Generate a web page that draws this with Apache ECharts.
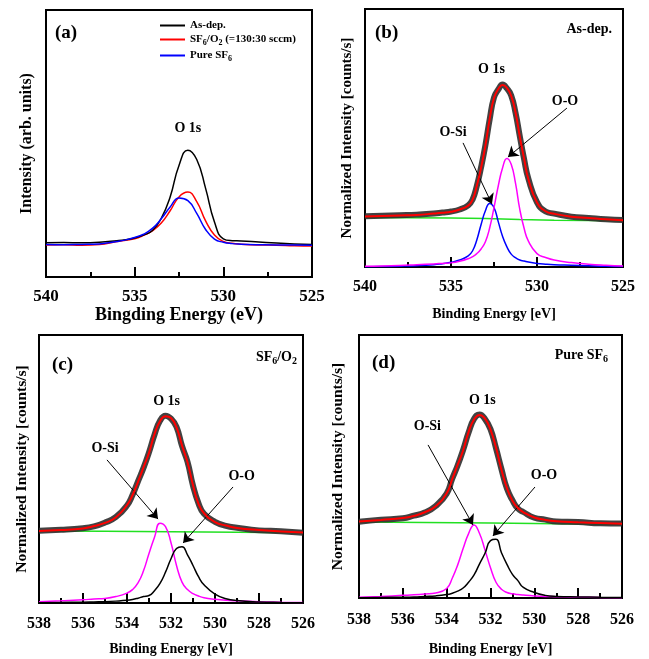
<!DOCTYPE html>
<html><head><meta charset="utf-8">
<script src="https://cdn.jsdelivr.net/npm/echarts@6/dist/echarts.min.js"></script>
<style>html,body{margin:0;padding:0;background:#fff}#c{width:649px;height:659px}</style>
</head><body><div id="c"></div>
<script>
// ---------- Panel (a): O 1s spectra ----------
const aEnergy = [540, 539, 538, 537, 536, 535.5, 535, 534.5, 534, 533.5, 533, 532.5, 532, 531.5, 531, 530.5, 530, 529.5, 529, 528, 527, 526, 525];
const aAsDep  = [12.8, 12.9, 12.8, 13.0, 13.6, 14.0, 14.6, 15.7, 17.4, 22.0, 30.0, 41.8, 47.5, 44.0, 33.2, 20.6, 14.3, 13.6, 13.5, 13.1, 12.7, 12.4, 12.2];
const aSF6O2  = [12.0, 12.1, 11.9, 12.2, 13.3, 13.8, 14.3, 15.6, 17.3, 20.2, 24.8, 30.0, 31.8, 28.2, 21.0, 15.7, 13.3, 12.6, 12.3, 12.0, 11.9, 11.7, 11.6];
const aPureSF6= [12.2, 12.1, 12.2, 12.4, 13.3, 13.9, 14.8, 16.0, 18.2, 21.8, 26.2, 29.6, 28.6, 23.8, 17.8, 14.2, 13.0, 12.5, 12.3, 12.1, 12.0, 12.0, 11.9];

// ---------- Panel (b): As-dep. fit ----------
const bEnergy = [540, 539, 538, 537, 536, 535.5, 535, 534.5, 534, 533.75, 533.5, 533.25, 533, 532.75, 532.5, 532.25, 532, 531.75, 531.5, 531.25, 531, 530.75, 530.5, 530, 529.5, 529, 528, 527, 526, 525];
const bMeasured = [19.7, 19.9, 20.1, 20.3, 20.7, 21.1, 21.5, 22.3, 23.9, 26.1, 31.4, 38.7, 47.2, 57.3, 65.7, 68.8, 70.7, 69.2, 66.5, 59.8, 50.7, 41.8, 34.2, 25.1, 21.5, 20.7, 19.5, 19.0, 18.5, 18.2];
const bFit      = [19.6, 19.8, 20.0, 20.2, 20.7, 21.0, 21.4, 22.3, 23.8, 26.0, 31.5, 38.5, 47.0, 57.5, 65.5, 69.0, 70.5, 69.4, 66.3, 60.0, 50.5, 42.0, 34.0, 25.0, 21.6, 20.6, 19.5, 19.0, 18.5, 18.1];
const bOSi      = [0.1, 0.2, 0.3, 0.5, 0.9, 1.3, 1.8, 2.7, 4.3, 6.2, 10.5, 16.5, 21.8, 24.6, 23.0, 17.5, 11.8, 7.8, 5.0, 3.6, 2.7, 2.3, 1.9, 1.4, 1.1, 0.9, 0.7, 0.5, 0.3, 0.2];
const bOO       = [0.3, 0.4, 0.6, 0.9, 1.2, 1.4, 1.6, 2.2, 3.2, 4.0, 5.2, 7.0, 9.8, 15.2, 23.0, 31.5, 38.5, 42.1, 39.8, 32.5, 22.3, 15.0, 10.0, 5.2, 3.7, 2.7, 1.7, 1.1, 0.7, 0.4];
const bBgEnergy = [540, 535, 533, 531, 529, 525];
const bBackground = [19.2, 19.0, 18.8, 18.4, 18.1, 17.9];

// ---------- Panels (c) SF6/O2 and (d) Pure SF6 ----------
const cdEnergy = [538, 537, 536, 535.5, 535, 534.5, 534, 533.75, 533.5, 533.25, 533, 532.75, 532.5, 532.25, 532, 531.75, 531.5, 531.25, 531, 530.75, 530.5, 530, 529.5, 529, 528, 527, 526];
const cMeasured = [27.0, 27.3, 27.9, 28.6, 30.0, 32.1, 36.4, 40.3, 45.4, 50.4, 56.2, 62.8, 68.0, 69.9, 68.8, 65.7, 58.6, 52.7, 43.8, 37.2, 33.3, 30.3, 28.8, 28.1, 27.1, 26.8, 26.2];
const cFit      = [26.9, 27.2, 27.8, 28.7, 29.9, 32.0, 36.5, 40.2, 45.2, 50.6, 56.0, 63.0, 67.8, 69.7, 69.0, 65.5, 58.8, 52.5, 44.0, 37.0, 33.5, 30.2, 28.9, 28.0, 27.2, 26.7, 26.3];
const cOSi      = [0.5, 0.8, 1.2, 1.5, 1.7, 2.4, 3.7, 5.0, 7.5, 12.0, 18.5, 24.5, 29.8, 28.5, 22.5, 14.0, 7.8, 5.0, 3.5, 2.6, 2.0, 1.4, 1.0, 0.8, 0.5, 0.3, 0.2];
const cOO       = [0.1, 0.2, 0.3, 0.4, 0.5, 0.7, 1.0, 1.3, 1.8, 2.4, 2.8, 4.6, 7.3, 11.5, 16.5, 20.3, 21.0, 18.0, 14.0, 9.8, 6.8, 3.3, 1.6, 0.9, 0.4, 0.2, 0.1];
const cBgEnergy = [538, 535, 532, 529, 526];
const cBackground = [26.9, 26.8, 26.6, 26.4, 26.2];

const dMeasured = [29.0, 29.8, 30.3, 31.3, 32.5, 35.0, 39.7, 45.3, 50.4, 56.3, 62.9, 68.1, 69.8, 68.0, 64.2, 57.0, 49.0, 41.6, 37.2, 34.0, 32.7, 30.5, 29.8, 29.1, 28.9, 28.4, 28.3];
const dFit      = [29.1, 29.7, 30.4, 31.2, 32.6, 34.9, 39.8, 45.1, 50.6, 56.1, 63.1, 67.9, 69.6, 68.2, 64.0, 57.2, 48.8, 41.8, 37.0, 34.2, 32.6, 30.6, 29.7, 29.2, 28.8, 28.5, 28.2];
const dOSi      = [0.3, 0.6, 1.0, 1.2, 1.5, 1.9, 3.6, 7.4, 12.5, 18.8, 24.5, 27.8, 24.5, 18.2, 11.5, 6.0, 3.3, 2.1, 1.6, 1.3, 1.1, 0.8, 0.6, 0.5, 0.3, 0.2, 0.1];
const dOO       = [0.1, 0.2, 0.3, 0.4, 0.6, 0.8, 1.3, 1.8, 2.6, 3.8, 6.0, 8.8, 13.0, 17.0, 21.8, 22.3, 17.2, 12.8, 9.0, 6.6, 4.0, 2.1, 1.0, 0.6, 0.4, 0.3, 0.2];
const dBackground = [28.9, 28.7, 28.5, 28.2, 28.0];

// ---------- Annotations (data coordinates) ----------
const annA = { labels: [['O 1s', 532.0, 55.8]], arrows: [] };
const annB = { labels: [['O 1s', 532.65, 76.4], ['O-Si', 534.88, 52.3], ['O-O', 528.37, 64.0]],
               arrows: [[534.30, 48.1, 532.62, 24.4], [528.26, 61.6, 531.69, 42.6]] };
const annC = { labels: [['O 1s', 532.2, 75.1], ['O-Si', 535.0, 57.7], ['O-O', 528.79, 47.1]],
               arrows: [[534.91, 53.4, 532.59, 31.3], [529.18, 43.3, 531.45, 22.4]] };
const annD = { labels: [['O 1s', 532.37, 75.3], ['O-Si', 534.88, 65.1], ['O-O', 529.56, 46.8]],
               arrows: [[534.85, 58.2, 532.8, 27.8], [529.97, 42.2, 531.89, 23.6]] };

const FF = '"Liberation Serif", "Times New Roman", serif';
const zip = (E, V) => E.map((e, i) => [e, V[i]]);

const grids = [
  {left: 46, top: 10, width: 266, height: 267},
  {left: 365, top: 9, width: 258, height: 258},
  {left: 39, top: 335, width: 264, height: 268},
  {left: 359, top: 335, width: 263, height: 263}
].map(g => Object.assign(g, {show: true, borderColor: '#000', borderWidth: 2, backgroundColor: 'transparent'}));

function xAx(gi, min, max, interval, labelMargin, name, nameGap, nameSize, labelSize) {
  return {
    type: 'value', gridIndex: gi, min: min, max: max, interval: interval, inverse: true,
    axisLine: {show: true, lineStyle: {color: '#000', width: 2}},
    axisTick: {show: true, inside: true, length: 10, lineStyle: {color: '#000', width: 2}},
    minorTick: {show: true, splitNumber: 2, length: 5, lineStyle: {color: '#000', width: 2}},
    splitLine: {show: false}, minorSplitLine: {show: false},
    axisLabel: {show: true, margin: labelMargin, color: '#000', fontFamily: FF, fontWeight: 'bold', fontSize: labelSize},
    name: name, nameLocation: 'middle', nameGap: nameGap,
    nameTextStyle: {color: '#000', fontFamily: FF, fontWeight: 'bold', fontSize: nameSize}
  };
}
function yAx(gi, name, nameGap, size) {
  return {
    type: 'value', gridIndex: gi, min: 0, max: 100,
    axisLine: {show: false}, axisTick: {show: false}, axisLabel: {show: false}, splitLine: {show: false},
    name: name, nameLocation: 'middle', nameGap: nameGap, nameRotate: 90,
    nameTextStyle: {color: '#000', fontFamily: FF, fontWeight: 'bold', fontSize: size}
  };
}

function line(name, gi, E, V, color, width, z, extra) {
  return Object.assign({
    type: 'line', name: name, xAxisIndex: gi, yAxisIndex: gi, data: zip(E, V),
    showSymbol: false, symbol: 'none', smooth: 0.5, z: z, silent: true,
    lineStyle: {color: color, width: width}, itemStyle: {color: color}
  }, extra || {});
}

function annot(ann) {
  return {
    markPoint: {
      symbol: 'rect', symbolSize: 1, silent: true, itemStyle: {color: 'rgba(0,0,0,0)'},
      label: {show: true, position: 'inside', formatter: '{b}', color: '#000', fontFamily: FF, fontWeight: 'bold', fontSize: 14},
      data: ann.labels.map(l => ({name: l[0], coord: [l[1], l[2]]}))
    },
    markLine: {
      silent: true, symbol: ['none', 'arrow'], symbolSize: 10, label: {show: false},
      lineStyle: {color: '#000', width: 1, type: 'solid'},
      data: ann.arrows.map(a => [{coord: [a[0], a[1]]}, {coord: [a[2], a[3]]}])
    }
  };
}

const MEAS = 'rgba(45,45,45,0.9)';
const GREEN = '#22e022';

const series = [
  line('As-dep.', 0, aEnergy, aAsDep, '#000', 1.5, 5, annot(annA)),
  line('SF6/O2', 0, aEnergy, aSF6O2, '#ff0000', 1.5, 4),
  line('Pure SF6', 0, aEnergy, aPureSF6, '#0000ff', 1.5, 6),

  line('b-bg', 1, bBgEnergy, bBackground, GREEN, 1.5, 2, {smooth: false}),
  line('b-osi', 1, bEnergy, bOSi, '#0000ff', 1.5, 3),
  line('b-oo', 1, bEnergy, bOO, '#ff00ff', 1.5, 3),
  line('b-meas', 1, bEnergy, bMeasured, MEAS, 6, 4),
  line('b-fit', 1, bEnergy, bFit, '#ff0000', 2, 5, annot(annB)),

  line('c-bg', 2, cBgEnergy, cBackground, GREEN, 1.5, 2, {smooth: false}),
  line('c-osi', 2, cdEnergy, cOSi, '#ff00ff', 1.5, 3),
  line('c-oo', 2, cdEnergy, cOO, '#000', 1.5, 3),
  line('c-meas', 2, cdEnergy, cMeasured, MEAS, 6, 4),
  line('c-fit', 2, cdEnergy, cFit, '#ff0000', 2, 5, annot(annC)),

  line('d-bg', 3, cBgEnergy, dBackground, GREEN, 1.5, 2, {smooth: false}),
  line('d-osi', 3, cdEnergy, dOSi, '#ff00ff', 1.5, 3),
  line('d-oo', 3, cdEnergy, dOO, '#000', 1.5, 3),
  line('d-meas', 3, cdEnergy, dMeasured, MEAS, 6, 4),
  line('d-fit', 3, cdEnergy, dFit, '#ff0000', 2, 5, annot(annD))
];

const richBase = {
  n: {fontFamily: FF, fontWeight: 'bold', fontSize: 11, color: '#000'},
  s: {fontFamily: FF, fontWeight: 'bold', fontSize: 8, color: '#000', padding: [7, 0, 0, 0]}
};
const legendText = {'As-dep.': '{n|As-dep.}', 'SF6/O2': '{n|SF}{s|6}{n|/O}{s|2}{n| (=130:30 sccm)}', 'Pure SF6': '{n|Pure SF}{s|6}'};

const richBig = {
  n: {fontFamily: FF, fontWeight: 'bold', fontSize: 14, color: '#000'},
  s: {fontFamily: FF, fontWeight: 'bold', fontSize: 10, color: '#000', padding: [8, 0, 0, 0]}
};
function gtext(x, y, text, align, size, rich) {
  return {type: 'text', x: x, y: y, silent: true,
    style: {text: text, align: align, verticalAlign: 'middle', font: 'bold ' + size + 'px ' + FF, fill: '#000', rich: rich}};
}

const option = {
  animation: false,
  backgroundColor: '#fff',
  grid: grids,
  xAxis: [
    xAx(0, 525, 540, 5, 11, 'Bingding Energy (eV)', 28, 18, 17),
    xAx(1, 525, 540, 5, 12, 'Binding Energy [eV]', 40, 14, 16),
    xAx(2, 526, 538, 2, 13, 'Binding Energy [eV]', 39, 14, 16),
    xAx(3, 526, 538, 2, 14, 'Binding Energy [eV]', 44, 14, 16)
  ],
  yAxis: [
    yAx(0, 'Intensity (arb. units)', 11, 16),
    yAx(1, 'Normalized Intensity [counts/s]', 10, 15),
    yAx(2, 'Normalized Intensity [counts/s]', 9, 15.5),
    yAx(3, 'Normalized Intensity [counts/s]', 13, 15.5)
  ],
  legend: {
    show: true, orient: 'vertical', left: 155, top: 15, itemWidth: 25, itemHeight: 2, itemGap: 3,
    icon: 'rect',
    data: ['As-dep.', 'SF6/O2', 'Pure SF6'], selectedMode: false,
    formatter: n => legendText[n],
    textStyle: {rich: richBase, fontFamily: FF, fontWeight: 'bold', fontSize: 11, color: '#000'}
  },
  graphic: [
    gtext(55, 33, '(a)', 'left', 19),
    gtext(375, 33, '(b)', 'left', 19),
    gtext(52, 365, '(c)', 'left', 19),
    gtext(372, 363, '(d)', 'left', 19),
    gtext(612, 29, 'As-dep.', 'right', 14),
    gtext(297, 357, '{n|SF}{s|6}{n|/O}{s|2}', 'right', 14, richBig),
    gtext(608, 355, '{n|Pure SF}{s|6}', 'right', 14, richBig)
  ],
  series: series
};

const chart = echarts.init(document.getElementById('c'), null, {renderer: 'canvas'});
chart.setOption(option);
</script>
</body></html>
